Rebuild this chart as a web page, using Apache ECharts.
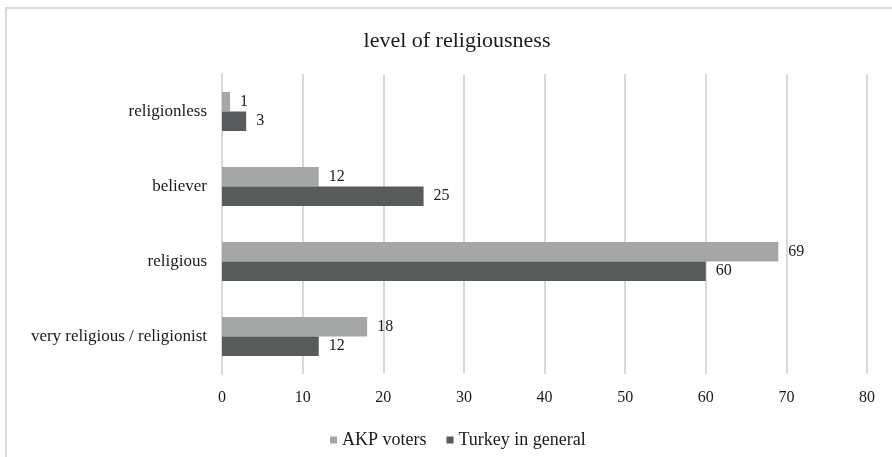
<!DOCTYPE html>
<html>
<head>
<meta charset="utf-8">
<script src="https://cdn.jsdelivr.net/npm/echarts@6/dist/echarts.min.js"></script>
<style>
  html, body { margin: 0; padding: 0; background: #ffffff; }
  #chart { width: 892px; height: 457px; }
</style>
</head>
<body>
<div id="chart"></div>
<script>
// Survey categories, listed bottom to top
const categories = ['very religious / religionist', 'religious', 'believer', 'religionless'];
const akpVoters = [18, 69, 12, 1];
const turkeyGeneral = [12, 60, 25, 3];
const xTicks = { min: 0, max: 80, interval: 10 };

const serif = '"Liberation Serif", "Times New Roman", serif';

const chart = echarts.init(document.getElementById('chart'), null, { renderer: 'canvas' });

const labelStyle = {
  show: true,
  position: 'right',
  distance: 10,
  color: '#1a1a1a',
  fontFamily: serif,
  fontSize: 16
};

chart.setOption({
  backgroundColor: '#ffffff',
  animation: false,
  title: {
    text: 'level of religiousness',
    left: 452,
    textAlign: 'center',
    top: 25,
    textStyle: { fontFamily: serif, fontSize: 22, fontWeight: 'normal', color: '#1a1a1a' }
  },
  graphic: [{
    type: 'rect',
    shape: { x: 6, y: 8, width: 1000, height: 1000 },
    style: { fill: 'none', stroke: '#d9d9d9', lineWidth: 2 },
    silent: true
  }],
  legend: {
    left: 325,
    top: 426,
    icon: 'rect',
    itemWidth: 7,
    itemHeight: 7,
    itemGap: 20,
    textStyle: { fontFamily: serif, fontSize: 18, color: '#1a1a1a' },
    data: ['AKP voters', 'Turkey in general']
  },
  grid: { left: 222, right: 25, top: 74, bottom: 83, containLabel: false },
  xAxis: {
    type: 'value',
    min: xTicks.min,
    max: xTicks.max,
    interval: xTicks.interval,
    axisLine: { show: false },
    axisTick: { show: false },
    splitLine: { lineStyle: { color: '#d9d9d9', width: 2 } },
    axisLabel: { margin: 16, fontFamily: serif, fontSize: 16, color: '#1a1a1a' }
  },
  yAxis: {
    type: 'category',
    data: categories,
    axisLine: { show: true, lineStyle: { color: '#d9d9d9', width: 2 } },
    axisTick: { show: false },
    axisLabel: { margin: 15, fontFamily: serif, fontSize: 17, color: '#1a1a1a' }
  },
  series: [
    {
      name: 'AKP voters',
      type: 'bar',
      data: akpVoters,
      barWidth: 19.5,
      barGap: '0%',
      itemStyle: { color: '#a5a7a7' },
      label: labelStyle
    },
    {
      name: 'Turkey in general',
      type: 'bar',
      data: turkeyGeneral,
      barWidth: 19.5,
      barGap: '0%',
      itemStyle: { color: '#575b5b' },
      label: labelStyle
    }
  ]
});
</script>
</body>
</html>
